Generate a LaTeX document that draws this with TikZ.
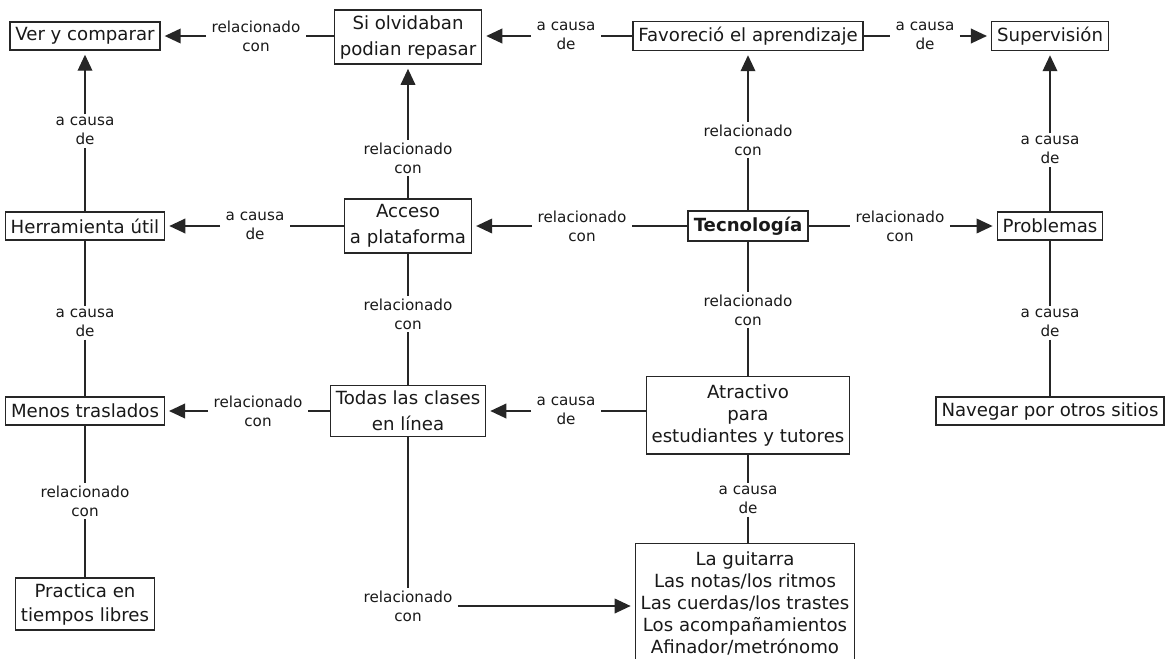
\documentclass[tikz,border=0pt]{standalone}
\usepackage{fontspec}
\setmainfont{DejaVu Sans}
\usetikzlibrary{arrows.meta}

\tikzset{
    concept/.style={draw=black!85, line width=1.1pt, fill=white, align=center,
        inner xsep=4pt, inner ysep=4pt, minimum height=21pt, text=black!90,
        font=\fontsize{13.6}{19.5}\selectfont},
    linkword/.style={inner xsep=4pt, inner ysep=2pt, align=center, text=black!90,
        font=\fontsize{11.4}{14}\selectfont},
    link/.style={draw=black!85, line width=1.1pt},
    linkarrow/.style={link, -{Triangle[length=12pt, width=11pt]}, shorten >=3pt},
}

\begin{document}
\begin{tikzpicture}[x=0.75pt, y=-0.75pt]
    \useasboundingbox (0,0) rectangle (1165,658);

    % concepts
    \node[concept] (ver)       at (85,36)   {Ver y comparar};
    \node[concept] (olvido)    at (408,37)  {Si olvidaban\\podian repasar};
    \node[concept] (favorecio) at (748,36)  {Favoreció el aprendizaje};
    \node[concept] (superv)    at (1050,36) {Supervisión};
    \node[concept] (herram)    at (85,226)  {Herramienta útil};
    \node[concept] (acceso)    at (408,226) {Acceso\\a plataforma};
    \node[concept, line width=1.6pt, minimum height=22.5pt] (tecno) at (748,226) {\textbf{Tecnología}};
    \node[concept] (problemas) at (1050,226) {Problemas};
    \node[concept] (menos)     at (85,411)  {Menos traslados};
    \node[concept] (todas)     at (408,411) {Todas las clases\\en línea};
    \node[concept, inner ysep=6pt, font=\fontsize{13.6}{16.5}\selectfont]
        (atractivo) at (748,415) {Atractivo\\para\\estudiantes y tutores};
    \node[concept] (navegar)   at (1050,411) {Navegar por otros sitios};
    \node[concept, font=\fontsize{13.6}{18}\selectfont] (practica) at (85,604) {Practica en\\tiempos libres};
    \node[concept, anchor=north, inner ysep=6pt, font=\fontsize{13.6}{16.5}\selectfont]
        (guitarra) at (745,543) {La guitarra\\Las notas/los ritmos\\Las cuerdas/los trastes\\Los acompañamientos\\Afinador/metrónomo};

    % linking words
    \node[linkword] (l1)  at (256,36)  {relacionado\\con};
    \node[linkword] (l2)  at (566,36)  {a causa\\de};
    \node[linkword] (l3)  at (925,36)  {a causa\\de};
    \node[linkword] (l4)  at (85,131)  {a causa\\de};
    \node[linkword] (l5)  at (408,158) {relacionado\\con};
    \node[linkword] (l6)  at (748,140) {relacionado\\con};
    \node[linkword] (l7)  at (1050,150) {a causa\\de};
    \node[linkword] (l8)  at (255,226) {a causa\\de};
    \node[linkword] (l9)  at (582,226) {relacionado\\con};
    \node[linkword] (l10) at (900,226) {relacionado\\con};
    \node[linkword] (l11) at (85,323)  {a causa\\de};
    \node[linkword] (l12) at (408,314) {relacionado\\con};
    \node[linkword] (l13) at (748,310) {relacionado\\con};
    \node[linkword] (l14) at (1050,323) {a causa\\de};
    \node[linkword] (l15) at (258,411) {relacionado\\con};
    \node[linkword] (l16) at (566,411) {a causa\\de};
    \node[linkword] (l17) at (85,501)  {relacionado\\con};
    \node[linkword] (l18) at (748,500) {a causa\\de};
    \node[linkword] (l19) at (408,606) {relacionado\\con};

    % top row
    \draw[link] (olvido.west |- l1) -- (l1);
    \draw[linkarrow] (l1) -- (ver);
    \draw[link] (favorecio) -- (l2);
    \draw[linkarrow] (l2) -- (l2 -| olvido.east);
    \draw[link] (favorecio) -- (l3);
    \draw[linkarrow] (l3) -- (superv);

    % upward links
    \draw[link] (herram) -- (l4);
    \draw[linkarrow] (l4) -- (ver);
    \draw[link] (acceso) -- (l5);
    \draw[linkarrow] (l5) -- (olvido);
    \draw[link] (tecno) -- (l6);
    \draw[linkarrow] (l6) -- (favorecio);
    \draw[link] (problemas) -- (l7);
    \draw[linkarrow] (l7) -- (superv);

    % middle row
    \draw[link] (acceso) -- (l8);
    \draw[linkarrow] (l8) -- (herram);
    \draw[link] (tecno) -- (l9);
    \draw[linkarrow] (l9) -- (acceso);
    \draw[link] (tecno) -- (l10);
    \draw[linkarrow] (l10) -- (problemas);

    % plain links
    \draw[link] (herram) -- (l11) -- (menos);
    \draw[link] (acceso) -- (l12) -- (todas);
    \draw[link] (tecno) -- (l13) -- (atractivo);
    \draw[link] (problemas) -- (l14) -- (navegar);
    \draw[link] (menos) -- (l17) -- (practica);
    \draw[link] (atractivo) -- (l18) -- (l18 |- guitarra.north);

    % third row
    \draw[link] (todas) -- (l15);
    \draw[linkarrow] (l15) -- (menos);
    \draw[link] (l16 -| atractivo.west) -- (l16);
    \draw[linkarrow] (l16) -- (todas);

    % down to the list
    \draw[link] (todas) -- (l19);
    \draw[linkarrow] (l19) -- (l19 -| guitarra.west);
\end{tikzpicture}
\end{document}
